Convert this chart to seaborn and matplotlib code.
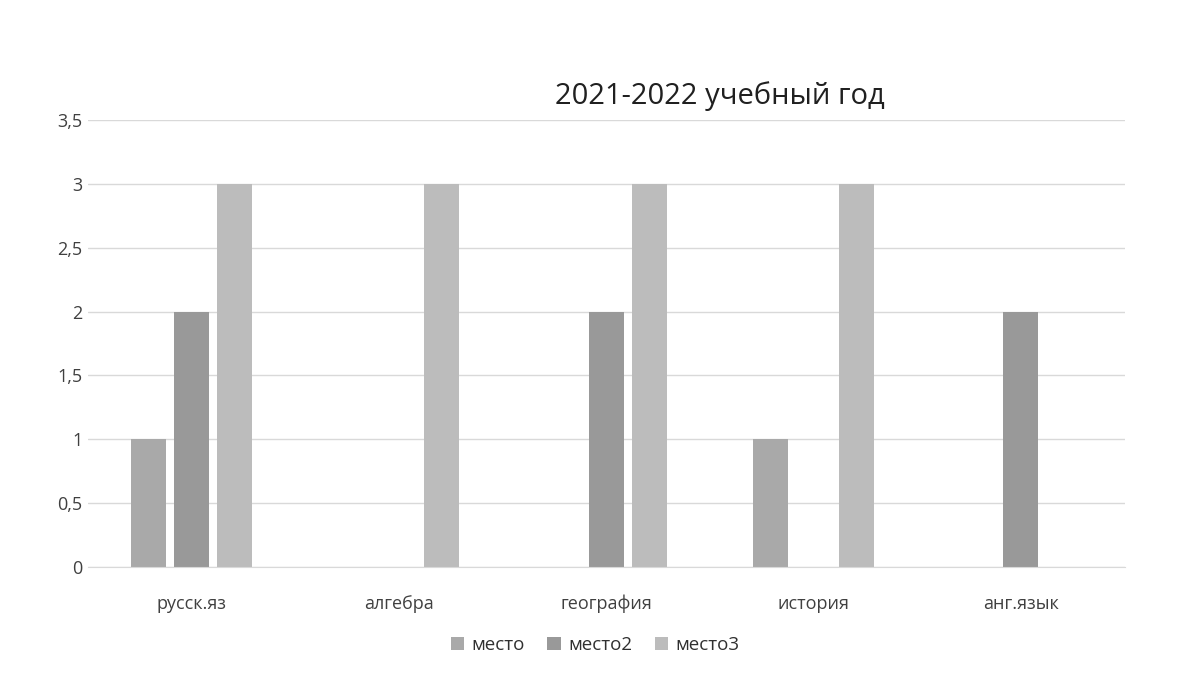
import pandas as pd
import matplotlib
matplotlib.use('Agg')
import matplotlib.pyplot as plt
import seaborn as sns
from matplotlib.patches import Patch

subjects = ['русск.яз', 'алгебра', 'география', 'история', 'анг.язык']
place1 = [1, 0, 0, 1, 0]
place2 = [2, 0, 2, 0, 2]
place3 = [3, 3, 3, 3, 0]
series_names = ['место', 'место2', 'место3']
y_ticks = [0, 0.5, 1, 1.5, 2, 2.5, 3, 3.5]
y_labels = ['0', '0,5', '1', '1,5', '2', '2,5', '3', '3,5']

colors = ['#a9a9a9', '#999999', '#bcbcbc']

df = pd.DataFrame({'Предмет': subjects, 'место': place1, 'место2': place2, 'место3': place3})
df = df.melt(id_vars='Предмет', var_name='Серия', value_name='Значение')

sns.set_style('white')
plt.rcParams['font.family'] = ['Open Sans', 'DejaVu Sans']

fig = plt.figure(figsize=(11.9, 6.83), dpi=100)
ax = fig.add_axes([0.074, 0.170, 0.871, 0.654])

sns.barplot(data=df, x='Предмет', y='Значение', hue='Серия', hue_order=series_names,
            palette=colors, width=0.62, gap=0.18, ax=ax, legend=False,
            saturation=1, edgecolor='none')

ax.set_ylim(0, 3.5)
ax.set_yticks(y_ticks)
ax.set_yticklabels(y_labels)
ax.yaxis.grid(True, color='#d9d9d9', linewidth=1)
ax.set_axisbelow(True)
ax.set_xlabel('')
ax.set_ylabel('')
ax.tick_params(axis='both', length=0, labelsize=13, colors='#404040')
ax.tick_params(axis='x', pad=20)
ax.tick_params(axis='y', pad=4)
for s in ['top', 'right', 'left']:
    ax.spines[s].set_visible(False)
ax.spines['bottom'].set_color('#d9d9d9')

fig.text(0.605, 0.86, '2021-2022 учебный год', ha='center', va='center',
         fontsize=21, color='#202020')

handles = [Patch(facecolor=c, edgecolor='none') for c in colors]
fig.legend(handles, series_names, loc='center', bbox_to_anchor=(0.5, 0.056), ncol=3,
           frameon=False, fontsize=13.5, handlelength=0.7, handleheight=0.7,
           handletextpad=0.4, columnspacing=1.2, labelcolor='#303030')

fig.savefig('out.png', dpi=100)
